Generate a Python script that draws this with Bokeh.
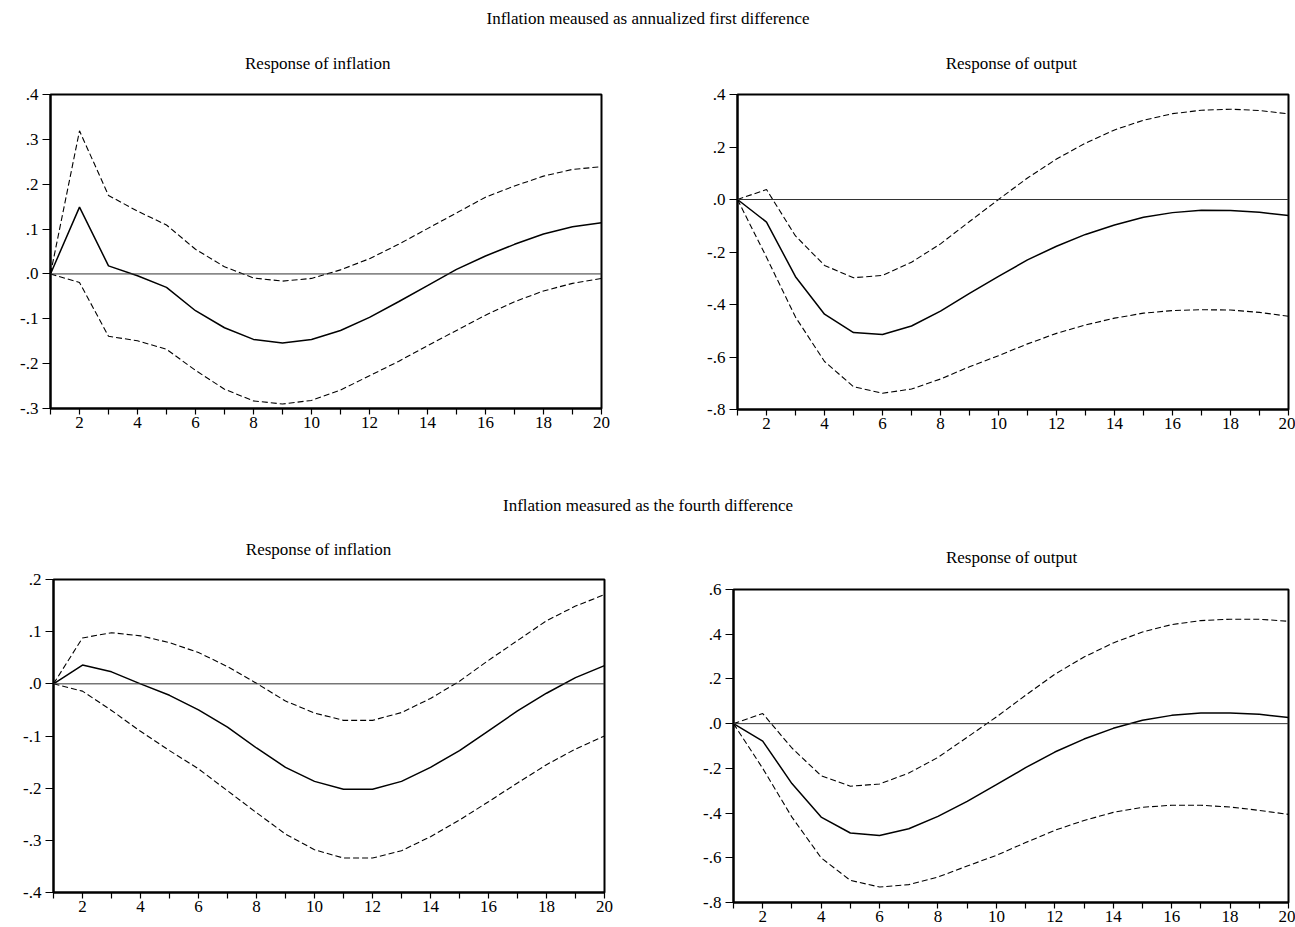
from bokeh.plotting import figure
from bokeh.layouts import column, row
from bokeh.models import Range1d, FixedTicker, CustomJSTickFormatter, Span, ColumnDataSource
from bokeh.embed import file_html
from bokeh.resources import INLINE
from bokeh.core.properties import value

# ---------------- data ----------------
periods = [1, 2, 3, 4, 5, 6, 7, 8, 9, 10, 11, 12, 13, 14, 15, 16, 17, 18, 19, 20]

headers = ["Inflation meaused as annualized first difference",
           "Inflation measured as the fourth difference"]
panel_titles = ["Response of inflation", "Response of output",
                "Response of inflation", "Response of output"]

# top-left: inflation response (annualized first difference)
tl_mid = [0.0, 0.149, 0.018, -0.004, -0.030, -0.082, -0.120, -0.146, -0.154, -0.146,
          -0.126, -0.097, -0.062, -0.026, 0.010, 0.040, 0.066, 0.089, 0.105, 0.114]
tl_up = [0.0, 0.319, 0.175, 0.140, 0.109, 0.055, 0.016, -0.009, -0.016, -0.010,
         0.009, 0.034, 0.066, 0.101, 0.136, 0.171, 0.196, 0.218, 0.233, 0.239]
tl_lo = [0.0, -0.019, -0.139, -0.149, -0.168, -0.215, -0.257, -0.283, -0.290, -0.282,
         -0.259, -0.227, -0.195, -0.160, -0.126, -0.092, -0.062, -0.038, -0.021, -0.010]

# top-right: output response (annualized first difference)
tr_mid = [0.0, -0.086, -0.294, -0.437, -0.507, -0.514, -0.482, -0.425, -0.358, -0.293,
          -0.230, -0.178, -0.133, -0.097, -0.068, -0.050, -0.041, -0.042, -0.049, -0.061]
tr_up = [0.0, 0.038, -0.139, -0.251, -0.298, -0.289, -0.239, -0.169, -0.084, 0.000,
         0.082, 0.154, 0.215, 0.265, 0.302, 0.327, 0.340, 0.344, 0.339, 0.326]
tr_lo = [0.0, -0.220, -0.448, -0.617, -0.713, -0.738, -0.722, -0.684, -0.637, -0.595,
         -0.550, -0.510, -0.478, -0.452, -0.433, -0.423, -0.420, -0.421, -0.430, -0.445]

# bottom-left: inflation response (fourth difference)
bl_mid = [0.0, 0.036, 0.023, 0.000, -0.022, -0.050, -0.083, -0.123, -0.160, -0.187,
          -0.202, -0.202, -0.187, -0.160, -0.128, -0.090, -0.052, -0.018, 0.012, 0.035]
bl_up = [0.0, 0.088, 0.098, 0.092, 0.079, 0.060, 0.033, 0.001, -0.033, -0.056,
         -0.070, -0.070, -0.055, -0.028, 0.005, 0.045, 0.083, 0.121, 0.149, 0.171]
bl_lo = [0.0, -0.014, -0.051, -0.091, -0.128, -0.163, -0.205, -0.247, -0.288, -0.318,
         -0.334, -0.334, -0.320, -0.293, -0.261, -0.226, -0.190, -0.155, -0.125, -0.100]

# bottom-right: output response (fourth difference)
br_mid = [0.0, -0.078, -0.268, -0.418, -0.489, -0.500, -0.470, -0.415, -0.348, -0.273,
          -0.197, -0.127, -0.069, -0.021, 0.015, 0.037, 0.048, 0.048, 0.042, 0.027]
br_up = [0.0, 0.045, -0.109, -0.233, -0.280, -0.270, -0.221, -0.151, -0.061, 0.030,
         0.127, 0.221, 0.298, 0.361, 0.410, 0.443, 0.461, 0.467, 0.467, 0.458]
br_lo = [0.0, -0.200, -0.418, -0.600, -0.701, -0.731, -0.720, -0.686, -0.637, -0.589,
         -0.532, -0.477, -0.433, -0.397, -0.374, -0.365, -0.365, -0.373, -0.388, -0.406]

tl_yticks = [-0.3, -0.2, -0.1, 0.0, 0.1, 0.2, 0.3, 0.4]
tr_yticks = [-0.8, -0.6, -0.4, -0.2, 0.0, 0.2, 0.4]
bl_yticks = [-0.4, -0.3, -0.2, -0.1, 0.0, 0.1, 0.2]
br_yticks = [-0.8, -0.6, -0.4, -0.2, 0.0, 0.2, 0.4, 0.6]

FONT = "Liberation Serif"


def text_strip(text, width, height, xfrac, yc, size="17px"):
    """A blank strip carrying one centred line of text (x as a fraction of the
    strip's frame, y in pixels from the strip's top)."""
    src = ColumnDataSource(dict(x=[xfrac], y=[yc], t=[text]))
    h = figure(width=width, height=height, output_backend="svg", toolbar_location=None,
               x_range=Range1d(0, 1), y_range=Range1d(height, 0),
               x_axis_location=None, y_axis_location=None,
               min_border=0, outline_line_color=None)
    h.grid.visible = False
    h.text(x="x", y="y", text="t", source=src, text_align="center",
           text_baseline="middle", text_font=value(FONT), text_font_size=size,
           text_color="black")
    return h


def panel(mid, up, lo, yticks, width, height, bl, br, bt, bb):
    p = figure(width=width, height=height, output_backend="svg", toolbar_location=None,
               x_range=Range1d(periods[0], periods[-1]),
               y_range=Range1d(yticks[0], yticks[-1]),
               min_border_left=bl, min_border_right=br,
               min_border_top=bt, min_border_bottom=bb)
    p.grid.visible = False
    p.outline_line_color = "black"
    p.outline_line_width = 2
    p.background_fill_color = "white"
    p.border_fill_color = "white"

    p.add_layout(Span(location=0, dimension="width", line_color="#333333", line_width=1))
    src = ColumnDataSource(dict(x=periods, mid=mid, up=up, lo=lo))
    p.line("x", "up", source=src, line_color="black", line_width=1.1, line_dash="6 3")
    p.line("x", "lo", source=src, line_color="black", line_width=1.1, line_dash="6 3")
    p.line("x", "mid", source=src, line_color="black", line_width=1.5)

    p.xaxis.ticker = FixedTicker(ticks=periods)
    p.xaxis.formatter = CustomJSTickFormatter(
        code="return (Math.round(tick) % 2 === 0) ? String(Math.round(tick)) : '';")
    p.yaxis.ticker = FixedTicker(ticks=yticks)
    p.yaxis.formatter = CustomJSTickFormatter(
        code="var s = tick.toFixed(1); return s.replace('0.', '.');")
    for ax in (p.xaxis[0], p.yaxis[0]):
        ax.axis_line_color = "black"
        ax.axis_line_width = 2
        ax.major_tick_line_color = "black"
        ax.major_tick_line_width = 1.2
        ax.major_tick_in = 0
        ax.minor_tick_line_color = None
        ax.major_label_text_font = FONT
        ax.major_label_text_font_size = "17px"
        ax.major_label_text_color = "black"
    p.xaxis.major_tick_out = 6
    p.xaxis.major_label_standoff = 2
    p.yaxis.major_tick_out = 8
    p.yaxis.major_label_standoff = 4
    return p


# section 1 (y 0..480)
h1 = text_strip(headers[0], 1295, 40, 0.5, 18)
t_tl = text_strip(panel_titles[0], 650, 40, 0.485, 23)
t_tr = text_strip(panel_titles[1], 645, 40, 0.497, 23)
tl = panel(tl_mid, tl_up, tl_lo, tl_yticks, 650, 400, 50, 49, 14, 72)
tr = panel(tr_mid, tr_up, tr_lo, tr_yticks, 645, 400, 87, 7, 14, 71)

# section 2 (y 480..927)
h2 = text_strip(headers[1], 1295, 40, 0.5, 25)
t_bl = text_strip(panel_titles[2], 650, 40, 0.481, 29)
t_br = text_strip(panel_titles[3], 645, 55, 0.501, 37)
bl = panel(bl_mid, bl_up, bl_lo, bl_yticks, 650, 367, 53, 46, 19, 35)
br = panel(br_mid, br_up, br_lo, br_yticks, 645, 352, 83, 7, 14, 25)

layout = column(h1,
                row(column(t_tl, tl), column(t_tr, tr)),
                h2,
                row(column(t_bl, bl), column(t_br, br)))

open("out.html", "w").write(file_html(layout, INLINE))
